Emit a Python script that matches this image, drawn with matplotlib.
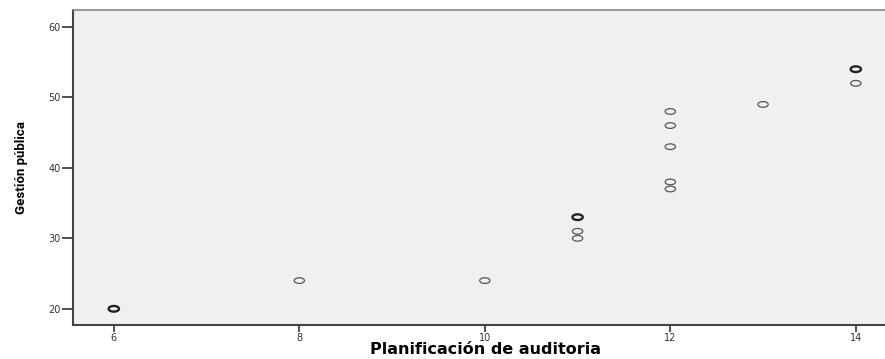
import matplotlib
matplotlib.use("Agg")
import matplotlib.pyplot as plt
import numpy as np
from matplotlib.path import Path
from collections import Counter

# Data (duplicates repeated)
planificacion = [6, 6, 8, 10, 11, 11, 11, 11, 12, 12, 12, 12, 12, 13, 14, 14, 14]
gestion = [20, 20, 24, 24, 33, 33, 31, 30, 48, 46, 43, 38, 37, 49, 54, 54, 52]
x_ticks = [6, 8, 10, 12, 14]
y_ticks = [20, 30, 40, 50, 60]
x_label = "Planificación de auditoria"
y_label = "Gestión pública"

fig = plt.figure(figsize=(8.85, 3.59), dpi=100)
ax = fig.add_axes([73/885, 1 - 325/359, (892 - 73)/885, (325 - 10)/359])
ax.set_facecolor("#f0f0f0")

# elliptical marker
t = np.linspace(0, 2*np.pi, 60)
ell = Path(np.column_stack([np.cos(t), 0.55*np.sin(t)]), closed=True)

counts = Counter(zip(planificacion, gestion))
pts = list(counts.keys())
xs = [p[0] for p in pts]
ys = [p[1] for p in pts]
lws = [1.7 if counts[p] > 1 else 0.9 for p in pts]
ecs = ["#222222" if counts[p] > 1 else "#555555" for p in pts]
ax.scatter(xs, ys, marker=ell, s=55, facecolors="none", edgecolors=ecs, linewidths=lws, zorder=3)

ax.set_xlim(5.56, 14.39)
ax.set_ylim(17.7, 62.4)
ax.set_xticks(x_ticks)
ax.set_yticks(y_ticks)
ax.tick_params(axis="y", length=8, width=1.2, color="#333333", labelsize=7, pad=1, labelcolor="#333333")
ax.tick_params(axis="x", length=5, width=1.2, color="#333333", labelsize=7, pad=1, labelcolor="#333333")

ax.spines["right"].set_visible(False)
ax.spines["left"].set_color("#444444")
ax.spines["left"].set_linewidth(1.5)
ax.spines["bottom"].set_color("#444444")
ax.spines["bottom"].set_linewidth(1.5)
ax.spines["top"].set_color("#888888")
ax.spines["top"].set_linewidth(1.2)

ax.set_xlabel(x_label, fontsize=11.5, fontweight="bold", family=["DejaVu Sans"])
ax.xaxis.set_label_coords((486 - 73)/(892 - 73), -(342 - 325)/315)
ax.set_ylabel(y_label, fontsize=9.5, fontweight="bold", family=["Roboto", "DejaVu Sans"])
ax.yaxis.set_label_coords(-(73 - 28)/(892 - 73), (325 - 168)/315)

fig.savefig("out.png", dpi=100)
